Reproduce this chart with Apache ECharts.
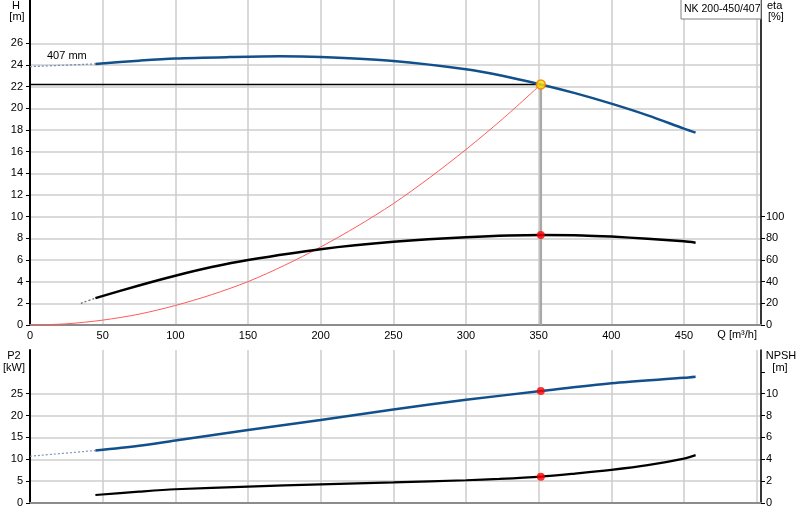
<!DOCTYPE html>
<html>
<head>
<meta charset="utf-8">
<script src="https://cdn.jsdelivr.net/npm/echarts@6/dist/echarts.min.js"></script>
<style>
  html, body { margin: 0; padding: 0; background: #fff; }
  #chart { width: 800px; height: 520px; }
</style>
</head>
<body>
<div id="chart"></div>
<script>
// tick labels
var qTicks = [0, 50, 100, 150, 200, 250, 300, 350, 400, 450];
var hTicks = [0, 2, 4, 6, 8, 10, 12, 14, 16, 18, 20, 22, 24, 26];
var etaTicks = [0, 20, 40, 60, 80, 100];
var p2Ticks = [0, 5, 10, 15, 20, 25];
var npshTicks = [0, 2, 4, 6, 8, 10];
var npshTickMarks = [0, 2, 4, 6, 8, 10, 12];

// H curve (m)
var qHDot = [0, 45];
var hHDot = [23.85, 24.1];
var qH = [45, 75, 100, 137.5, 172, 200, 250, 300, 325, 351.5, 375, 400, 425, 450, 458];
var hH = [24.1, 24.4, 24.6, 24.73, 24.8, 24.73, 24.36, 23.6, 23.0, 22.2, 21.4, 20.43, 19.35, 18.13, 17.76];

// system curve (m)
var qSys = [0, 25, 50, 75, 100, 125, 150, 175, 200, 225, 250, 275, 300, 325, 351.5];
var hSys = [0, 0.11, 0.45, 1.0, 1.8, 2.8, 4.0, 5.5, 7.2, 9.1, 11.2, 13.6, 16.2, 19.0, 22.2];

// eta (%)
var qEtaDot = [35, 45];
var etaDot = [20, 24.8];
var qEta = [45, 75, 100, 125, 150, 200, 250, 300, 351.5, 380, 400, 425, 450, 458];
var eta = [24.8, 36.5, 45.5, 53.5, 60, 70, 76.8, 81, 83, 82.7, 81.6, 79.6, 77.2, 76.0];

// P2 (kW)
var qP2Dot = [0, 45];
var p2Dot = [10.7, 12.0];
var qP2 = [45, 75, 100, 150, 200, 250, 300, 351.5, 400, 450, 458];
var p2 = [12.0, 13.1, 14.3, 16.7, 19.0, 21.4, 23.6, 25.6, 27.4, 28.65, 28.9];

// NPSH (m)
var qNpsh = [45, 75, 100, 150, 200, 250, 300, 323, 351.5, 375, 400, 425, 450, 458];
var npsh = [0.73, 1.04, 1.26, 1.5, 1.71, 1.88, 2.08, 2.2, 2.41, 2.69, 3.03, 3.46, 4.06, 4.38];

// duty point
var opQ = 351.5;
var opH = 22.2;
var opEta = 83;
var opP2 = 25.6;
var opNpsh = 2.41;

var FONT = 'Liberation Sans, Arial, sans-serif';
var BLUE = '#12508c';

function pts(xs, ys) {
  return xs.map(function (x, i) { return [x, ys[i]]; });
}

var chart = echarts.init(document.getElementById('chart'));

var vSplit = { show: true, lineStyle: { color: '#cdcdcd', width: 1.5 } };
var hSplit = { show: true, lineStyle: { color: '#dadada', width: 2 } };

function lineSeries(x, y, data, color, width, type, z) {
  return {
    type: 'line', xAxisIndex: x, yAxisIndex: y, data: data,
    smooth: 0.3, showSymbol: false, symbol: 'none', z: z || 3,
    lineStyle: { color: color, width: width, type: type || 'solid' }
  };
}

function dot(x, y, data, color, border, size) {
  return {
    type: 'scatter', xAxisIndex: x, yAxisIndex: y, data: data,
    symbolSize: size, z: 10,
    itemStyle: { color: color, borderColor: border || color, borderWidth: border ? 1.5 : 0 }
  };
}

function label(x, y, text, align, size) {
  return {
    type: 'text', x: x, y: y, z: 21,
    style: { text: text, font: (size || 11) + 'px ' + FONT, fill: '#000', align: align, verticalAlign: 'middle' }
  };
}

var option = {
  animation: false,
  grid: [
    { left: 30, top: 0, width: 731, height: 325 },
    { left: 30, top: 350, width: 731, height: 153 }
  ],
  xAxis: [
    {
      gridIndex: 0, type: 'value', min: 0, max: 503, interval: 50,
      axisLine: { lineStyle: { color: '#8c8c8c', width: 2 } },
      axisTick: { show: false },
      axisLabel: { customValues: qTicks, color: '#000', fontSize: 11, fontFamily: FONT, margin: 5 },
      splitLine: vSplit
    },
    {
      gridIndex: 1, type: 'value', min: 0, max: 503, interval: 50,
      axisLine: { lineStyle: { color: '#8c8c8c', width: 2 } },
      axisTick: { show: false },
      axisLabel: { show: false },
      splitLine: vSplit
    }
  ],
  yAxis: [
    {
      gridIndex: 0, type: 'value', position: 'left', min: 0, max: 30, interval: 2,
      axisLine: { show: true, lineStyle: { color: '#000', width: 2 } },
      axisTick: { show: true, length: 4, customValues: hTicks, lineStyle: { color: '#000' } },
      axisLabel: { customValues: hTicks, color: '#000', fontSize: 11, fontFamily: FONT, margin: 7 },
      splitLine: hSplit
    },
    {
      gridIndex: 0, type: 'value', position: 'right', min: 0, max: 300, interval: 20,
      axisLine: { show: true, lineStyle: { color: '#000', width: 1.5 } },
      axisTick: { show: true, length: 4, customValues: etaTicks, lineStyle: { color: '#000' } },
      axisLabel: { customValues: etaTicks, color: '#000', fontSize: 11, fontFamily: FONT, margin: 5 },
      splitLine: { show: false }
    },
    {
      gridIndex: 1, type: 'value', position: 'left', min: 0, max: 35, interval: 5,
      axisLine: { show: true, lineStyle: { color: '#000', width: 2 } },
      axisTick: { show: true, length: 4, customValues: p2Ticks, lineStyle: { color: '#000' } },
      axisLabel: { customValues: p2Ticks, color: '#000', fontSize: 11, fontFamily: FONT, margin: 7 },
      splitLine: hSplit
    },
    {
      gridIndex: 1, type: 'value', position: 'right', min: 0, max: 14, interval: 2,
      axisLine: { show: true, lineStyle: { color: '#000', width: 1.5 } },
      axisTick: { show: true, length: 4, customValues: npshTickMarks, lineStyle: { color: '#000' } },
      axisLabel: { customValues: npshTicks, color: '#000', fontSize: 11, fontFamily: FONT, margin: 5 },
      splitLine: { show: false }
    }
  ],
  series: [
    // duty point guide lines
    lineSeries(0, 0, [[0, opH], [opQ, opH]], '#000', 1.5, 'solid', 4),
    lineSeries(0, 0, [[opQ, opH], [opQ, 0]], '#a8a8a8', 2.5, 'solid', 2),
    // system curve
    lineSeries(0, 0, pts(qSys, hSys), '#ff5a5a', 1, 'solid', 3),
    // H
    lineSeries(0, 0, pts(qHDot, hHDot), '#6f8fb5', 1.2, [2, 2], 3),
    lineSeries(0, 0, pts(qH, hH), BLUE, 2.5, 'solid', 5),
    // eta
    lineSeries(0, 1, pts(qEtaDot, etaDot), '#666', 1.2, [2, 2], 3),
    lineSeries(0, 1, pts(qEta, eta), '#000', 2.5, 'solid', 5),
    // P2
    lineSeries(1, 2, pts(qP2Dot, p2Dot), '#7d98bd', 1.2, [2, 2], 3),
    lineSeries(1, 2, pts(qP2, p2), BLUE, 2.5, 'solid', 5),
    // NPSH
    lineSeries(1, 3, pts(qNpsh, npsh), '#000', 2.2, 'solid', 5),
    // points
    dot(0, 0, [[opQ, opH]], '#ffe400', '#f07800', 9),
    dot(0, 1, [[opQ, opEta]], '#ff0000', null, 8),
    dot(1, 2, [[opQ, opP2]], '#ff0000', null, 8),
    dot(1, 3, [[opQ, opNpsh]], '#ff0000', null, 8)
  ],
  graphic: [
    label(16, 6, 'H', 'center'),
    label(17, 17, '[m]', 'center'),
    label(767, 6, 'eta', 'left'),
    label(768, 17, '[%]', 'left'),
    { type: 'rect', x: 681, y: -1, z: 20, shape: { width: 80, height: 20 }, style: { fill: '#fff', stroke: '#808080', lineWidth: 1 } },
    label(684, 9, 'NK 200-450/407', 'left', 10.5),
    label(47, 56, '407 mm', 'left'),
    label(757, 335, 'Q [m³/h]', 'right'),
    label(14, 356, 'P2', 'center'),
    label(14, 368, '[kW]', 'center'),
    label(781, 356, 'NPSH', 'center'),
    label(780, 368, '[m]', 'center')
  ]
};

chart.setOption(option);
</script>
</body>
</html>
